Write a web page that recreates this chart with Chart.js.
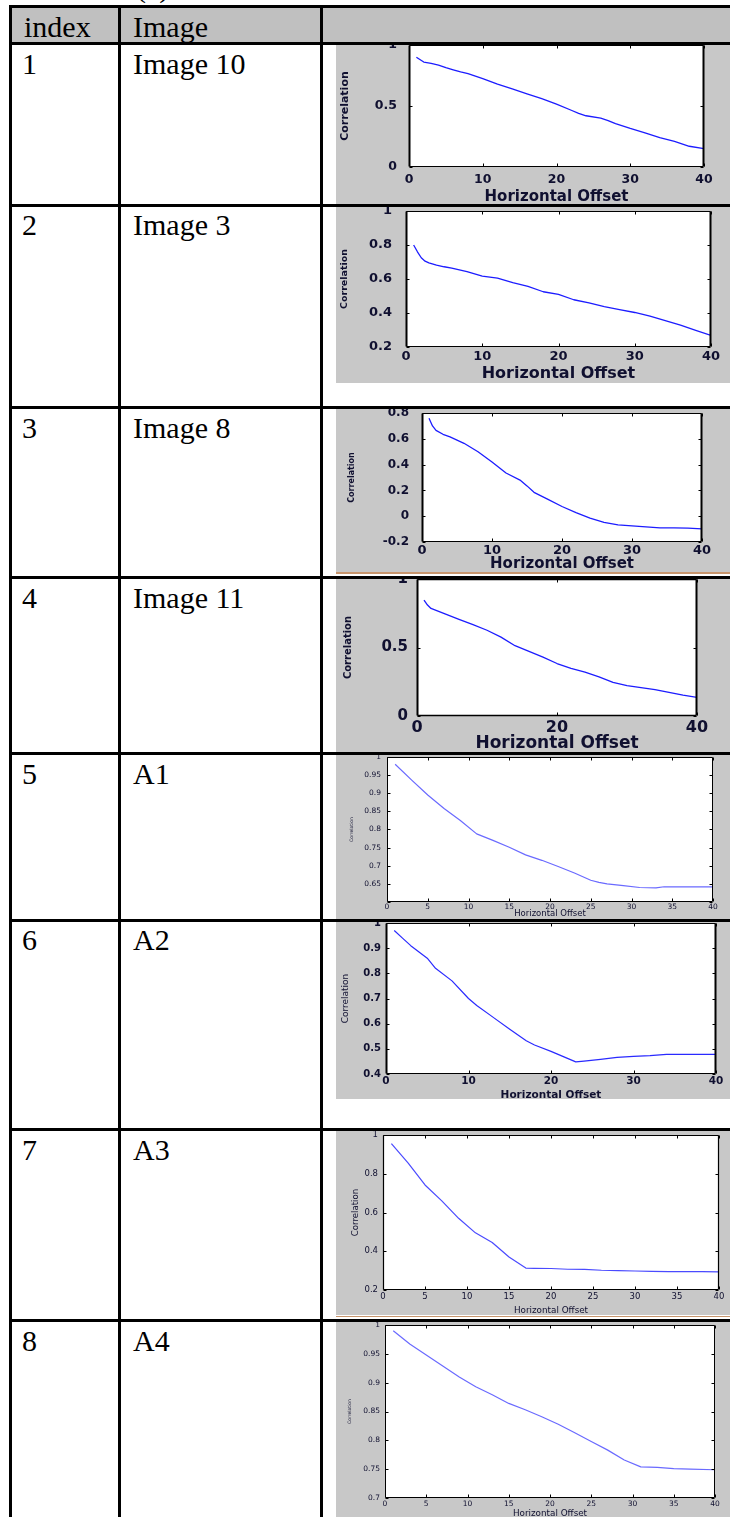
<!DOCTYPE html>
<html><head><meta charset="utf-8">
<script src="https://cdn.jsdelivr.net/npm/chart.js@4.4.1/dist/chart.umd.min.js"></script>
<style>
html,body{margin:0;padding:0;background:#fff;}
#page{position:relative;width:730px;height:1517px;overflow:hidden;background:#fff;}
.hl{position:absolute;height:3px;background:#000;z-index:3;}
.vl{position:absolute;width:3px;background:#000;z-index:3;}
.txt{position:absolute;font-family:"Liberation Serif","Times New Roman",serif;font-size:30px;line-height:1;color:#000;white-space:nowrap;z-index:2;}
.panel{position:absolute;left:336px;width:394px;z-index:1;}
.brown{position:absolute;left:336px;width:394px;height:1.5px;background:#c8966e;z-index:2;}
</style></head><body><div id="page"></div>
<script>
// ---------- table text ----------
const headerLabels = ['index', 'Image', ''];
const indexLabels = ['1', '2', '3', '4', '5', '6', '7', '8'];
const imageNames = ['Image 10', 'Image 3', 'Image 8', 'Image 11', 'A1', 'A2', 'A3', 'A4'];

// ---------- chart data (horizontal offset vs correlation) ----------
const offsets1 = [1,2,3,4,5,6,7,8,9,10,12,14,16,18,20,22,23,24,26,27,28,30,32,34,36,38,40];
const corr1 = [0.90,0.86,0.85,0.835,0.815,0.797,0.78,0.765,0.745,0.725,0.68,0.64,0.60,0.56,0.515,0.465,0.44,0.42,0.40,0.38,0.355,0.316,0.28,0.24,0.21,0.17,0.15];

const offsets2 = [1,1.5,2,2.5,3,4,5,6,8,10,12,14,16,18,20,22,24,26,28,30,32,34,36,38,40];
const corr2 = [0.80,0.76,0.725,0.705,0.695,0.682,0.672,0.664,0.643,0.617,0.605,0.578,0.556,0.525,0.51,0.478,0.46,0.438,0.42,0.403,0.382,0.355,0.328,0.298,0.268];

const offsets3 = [1,1.5,2,3,4,5,6,8,10,12,14,15,16,18,20,22,24,26,28,30,32,34,36,38,40];
const corr3 = [0.76,0.70,0.665,0.635,0.615,0.59,0.565,0.50,0.42,0.335,0.28,0.235,0.185,0.13,0.075,0.028,-0.015,-0.048,-0.067,-0.075,-0.083,-0.09,-0.091,-0.092,-0.099];

const offsets4 = [1,1.5,2,4,6,8,10,12,14,16,18,20,22,24,26,28,30,32,34,36,38,40];
const corr4 = [0.845,0.81,0.785,0.745,0.706,0.667,0.626,0.576,0.513,0.472,0.43,0.383,0.348,0.32,0.286,0.245,0.222,0.207,0.193,0.172,0.152,0.136];

const offsets5 = [1,3,5,7,9,11,13,15,17,19,21,23,25,26,27,29,31,33,34,36,38,40];
const corr5 = [0.98,0.937,0.895,0.858,0.825,0.788,0.77,0.751,0.73,0.715,0.698,0.68,0.66,0.654,0.65,0.645,0.64,0.639,0.642,0.642,0.642,0.642];

const offsets6 = [1,2,3,4,5,6,8,10,11,13,15,17,18,20,22,23,24,26,28,30,32,34,36,38,40];
const corr6 = [0.97,0.94,0.91,0.885,0.86,0.82,0.77,0.70,0.672,0.625,0.578,0.532,0.515,0.49,0.462,0.448,0.451,0.458,0.466,0.47,0.473,0.478,0.478,0.478,0.478];

const offsets7 = [1,3,5,7,9,11,13,15,17,18,20,22,24,26,28,30,32,34,36,38,40];
const corr7 = [0.955,0.855,0.742,0.66,0.57,0.495,0.445,0.37,0.313,0.312,0.311,0.307,0.306,0.302,0.3,0.298,0.296,0.295,0.295,0.295,0.294];

const offsets8 = [1,3,5,7,9,11,13,15,17,19,21,23,25,27,29,31,33,35,37,40];
const corr8 = [0.99,0.967,0.948,0.929,0.91,0.893,0.879,0.864,0.853,0.841,0.828,0.813,0.798,0.783,0.766,0.754,0.753,0.751,0.75,0.749];

// ---------- tick values and labels ----------
const xTicks10 = [0,10,20,30,40];
const xTickLabels10 = ['0','10','20','30','40'];
const xTicks20 = [0,20,40];
const xTickLabels20 = ['0','20','40'];
const xTicks5 = [0,5,10,15,20,25,30,35,40];
const xTickLabels5 = ['0','5','10','15','20','25','30','35','40'];

const yTicks1 = [0,0.5,1];            const yTickLabels1 = ['0','0.5','1'];
const yTicks2 = [0.2,0.4,0.6,0.8,1];  const yTickLabels2 = ['0.2','0.4','0.6','0.8','1'];
const yTicks3 = [-0.2,0,0.2,0.4,0.6,0.8]; const yTickLabels3 = ['-0.2','0','0.2','0.4','0.6','0.8'];
const yTicks4 = [0,0.5,1];            const yTickLabels4 = ['0','0.5','1'];
const yTicks5 = [0.6,0.65,0.7,0.75,0.8,0.85,0.9,0.95,1]; const yTickLabels5 = ['','0.65','0.7','0.75','0.8','0.85','0.9','0.95','1'];
const yTicks6 = [0.4,0.5,0.6,0.7,0.8,0.9,1]; const yTickLabels6 = ['0.4','0.5','0.6','0.7','0.8','0.9','1'];
const yTicks7 = [0.2,0.4,0.6,0.8,1];  const yTickLabels7 = ['0.2','0.4','0.6','0.8','1'];
const yTicks8 = [0.7,0.75,0.8,0.85,0.9,0.95,1]; const yTickLabels8 = ['0.7','0.75','0.8','0.85','0.9','0.95','1'];

const xAxisTitle = 'Horizontal Offset';
const yAxisTitle = 'Correlation';

// ---------- layout / style ----------
const page = document.getElementById('page');
const FAM = '"DejaVu Sans", Arial, sans-serif';
const TXT = '#101030';
const PANEL_LEFT = 336, PANEL_RIGHT = 730;

const rowLines = [6, 43.3, 205, 407.7, 577.5, 753.3, 920, 1129.3, 1320.7];
const colLines = [10, 119, 321.7];

function addDiv(cls, style, text) {
  const d = document.createElement('div');
  d.className = cls;
  Object.assign(d.style, style);
  if (text !== undefined) d.textContent = text;
  page.appendChild(d);
  return d;
}

// header background
addDiv('', {position:'absolute', left:'10px', top:'6px', width:'720px', height:'37.3px', background:'#c0c0c0', zIndex:0});
// cut caption at top
addDiv('txt', {left:'136px', top:'-27.6px'}, '(a)');

const BASE = 25.1; // baseline offset from box top for 30px Liberation Serif, line-height 1
addDiv('txt', {left:'24px', top:(36.7 - BASE) + 'px'}, headerLabels[0]);
addDiv('txt', {left:'133px', top:(36.7 - BASE) + 'px'}, headerLabels[1]);
for (let i = 0; i < 8; i++) {
  const base = rowLines[i + 1] + 30.5;
  addDiv('txt', {left:'22px', top:(base - BASE) + 'px'}, indexLabels[i]);
  addDiv('txt', {left:'133px', top:(base - BASE) + 'px'}, imageNames[i]);
}

rowLines.forEach(y => addDiv('hl', {left:'8.5px', width:'721.5px', top:(y - 1.5) + 'px'}));
colLines.forEach(x => addDiv('vl', {left:(x - 1.5) + 'px', top:'4.5px', height:'1513px'}));
addDiv('brown', {top:'572px'});
addDiv('brown', {top:'1315.5px'});

// ---------- plugin: MATLAB-like box, inward ticks, backgrounds ----------
const matlabAxes = {
  id: 'matlabAxes',
  beforeDraw(chart, args, o) {
    const {ctx, chartArea: a, width, height} = chart;
    ctx.save();
    ctx.fillStyle = '#c8c8c8';
    ctx.fillRect(0, 0, width, height);
    ctx.fillStyle = '#ffffff';
    ctx.fillRect(a.left, a.top, a.right - a.left, a.bottom - a.top);
    ctx.restore();
  },
  afterDatasetsDraw(chart, args, o) {
    const {ctx, chartArea: a, scales} = chart;
    const xs = scales.x, ys = scales.y;
    const L = Math.round(a.left) + 0.5, R = Math.round(a.right) - 0.5;
    const T = Math.round(a.top) + 0.5, B = Math.round(a.bottom) - 0.5;
    ctx.save();
    ctx.strokeStyle = '#000';
    ctx.lineWidth = 1;
    ctx.beginPath();
    xs.ticks.forEach(t => {
      const p = Math.round(xs.getPixelForValue(t.value)) + 0.5;
      ctx.moveTo(p, B); ctx.lineTo(p, B - o.tick);
      ctx.moveTo(p, T); ctx.lineTo(p, T + o.tick);
    });
    ys.ticks.forEach(t => {
      const p = Math.round(ys.getPixelForValue(t.value)) + 0.5;
      ctx.moveTo(L, p); ctx.lineTo(L + o.tick, p);
      ctx.moveTo(R, p); ctx.lineTo(R - o.tick, p);
    });
    ctx.stroke();
    ctx.lineWidth = o.frameH;
    ctx.beginPath();
    ctx.moveTo(L, T); ctx.lineTo(R, T);
    ctx.moveTo(L, B); ctx.lineTo(R, B);
    ctx.stroke();
    ctx.lineWidth = o.frameV;
    ctx.beginPath();
    ctx.moveTo(L, T); ctx.lineTo(L, B);
    ctx.moveTo(R, T); ctx.lineTo(R, B);
    ctx.stroke();
    ctx.restore();
  }
};

function f(size, bold) { return {family: FAM, size: size, weight: bold ? 'bold' : 'normal', lineHeight: 1}; }

const charts = [
  {xs: offsets1, ys: corr1, xt: xTicks10, xl: xTickLabels10, yt: yTicks1, yl: yTickLabels1, min: 0, max: 1,
   top: 44, bottom: 205, L: 409, R: 704, T: 45, B: 167, yTitleX: 345, xTitleY: 196.7, xTickY: 180, yPad: 12,
   xtf: f(12.5, true), ytf: f(12.5, true), xtt: f(15, true), ytt: f(11, true), color: '#1c1cff', lw: 1.3, frameV: 2, frameH: 1.2, tick: 3},
  {xs: offsets2, ys: corr2, xt: xTicks10, xl: xTickLabels10, yt: yTicks2, yl: yTickLabels2, min: 0.2, max: 1,
   top: 206, bottom: 383, L: 406, R: 711, T: 211, B: 347, yTitleX: 345, xTitleY: 374, xTickY: 356.7, yPad: 14,
   xtf: f(13, true), ytf: f(13, true), xtt: f(16, true), ytt: f(9.5, true), color: '#1c1cff', lw: 1.3, frameV: 2, frameH: 1.2, tick: 3},
  {xs: offsets3, ys: corr3, xt: xTicks10, xl: xTickLabels10, yt: yTicks3, yl: yTickLabels3, min: -0.2, max: 0.8,
   top: 409, bottom: 572, L: 422, R: 702, T: 413, B: 542, yTitleX: 351.7, xTitleY: 564, xTickY: 550.5, yPad: 13,
   xtf: f(13, true), ytf: f(12, true), xtt: f(15, true), ytt: f(8, true), color: '#1c1cff', lw: 1.3, frameV: 2, frameH: 1.2, tick: 3},
  {xs: offsets4, ys: corr4, xt: xTicks20, xl: xTickLabels20, yt: yTicks4, yl: yTickLabels4, min: 0, max: 1,
   top: 578, bottom: 753, L: 417, R: 697, T: 579, B: 716, yTitleX: 348, xTitleY: 744, xTickY: 728.3, yPad: 9,
   xtf: f(16, true), ytf: f(15, true), xtt: f(17, true), ytt: f(10, true), color: '#1c1cff', lw: 1.3, frameV: 2, frameH: 1.3, tick: 3},
  {xs: offsets5, ys: corr5, xt: xTicks5, xl: xTickLabels5, yt: yTicks5, yl: yTickLabels5, min: 0.6, max: 1,
   top: 754, bottom: 919, L: 387, R: 713, T: 757, B: 902, yTitleX: 351.7, xTitleY: 914, xTickY: 906.7, yPad: 6,
   xtf: f(7.5, false), ytf: f(7.5, false), xtt: f(8.5, false), ytt: f(4.5, false), color: '#6a6aff', lw: 1.2, frameV: 1, frameH: 1, tick: 3},
  {xs: offsets6, ys: corr6, xt: xTicks10, xl: xTickLabels10, yt: yTicks6, yl: yTickLabels6, min: 0.4, max: 1,
   top: 921, bottom: 1099, L: 386, R: 716, T: 923, B: 1074, yTitleX: 345.7, xTitleY: 1095, xTickY: 1081.7, yPad: 5,
   xtf: f(10.5, true), ytf: f(10, true), xtt: f(10.5, true), ytt: f(9, false), color: '#2a2aff', lw: 1.2, frameV: 2, frameH: 1.2, tick: 3},
  {xs: offsets7, ys: corr7, xt: xTicks5, xl: xTickLabels5, yt: yTicks7, yl: yTickLabels7, min: 0.2, max: 1,
   top: 1130, bottom: 1315, L: 383, R: 719, T: 1135, B: 1290, yTitleX: 355.7, xTitleY: 1311, xTickY: 1296.7, yPad: 5,
   xtf: f(8.5, false), ytf: f(8.5, false), xtt: f(8.8, false), ytt: f(8.6, false), color: '#4a4aff', lw: 1.2, frameV: 1.2, frameH: 1, tick: 3},
  {xs: offsets8, ys: corr8, xt: xTicks5, xl: xTickLabels5, yt: yTicks8, yl: yTickLabels8, min: 0.7, max: 1,
   top: 1321, bottom: 1517, L: 385, R: 715, T: 1325, B: 1498, yTitleX: 350, xTitleY: 1513.3, xTickY: 1504, yPad: 5,
   xtf: f(7.5, false), ytf: f(7.5, false), xtt: f(8.8, false), ytt: f(4.5, false), color: '#6a6aff', lw: 1.2, frameV: 1, frameH: 1, tick: 3}
];

charts.forEach(c => {
  const wrap = addDiv('panel', {top: c.top + 'px', height: (c.bottom - c.top) + 'px'});
  const cv = document.createElement('canvas');
  wrap.appendChild(cv);
  new Chart(cv, {
    type: 'scatter',
    data: {
      datasets: [{
        data: c.xs.map((x, i) => ({x: x, y: c.ys[i]})),
        showLine: true, borderColor: c.color, borderWidth: c.lw, pointRadius: 0,
        pointHoverRadius: 0, tension: 0, fill: false, borderJoinStyle: 'round'
      }]
    },
    options: {
      responsive: true, maintainAspectRatio: false, animation: false, devicePixelRatio: 1,
      events: [],
      layout: {autoPadding: false, padding: {left: 0, top: c.T - c.top, right: PANEL_RIGHT - c.R, bottom: 0}},
      plugins: {legend: {display: false}, tooltip: {enabled: false},
        matlabAxes: {tick: c.tick, frameV: c.frameV, frameH: c.frameH}},
      scales: {
        x: {
          type: 'linear', position: 'bottom', min: 0, max: 40,
          afterBuildTicks: s => { s.ticks = c.xt.map(v => ({value: v})); },
          afterFit: s => { s.height = c.bottom - c.B; s.paddingLeft = 0; s.paddingRight = 0; s.paddingTop = 0; s.paddingBottom = 0; },
          grid: {display: false, drawTicks: false}, border: {display: false},
          ticks: {autoSkip: false, maxRotation: 0, minRotation: 0, color: TXT, font: c.xtf,
            padding: c.xTickY - c.B - c.xtf.size / 2, callback: (v, i) => c.xl[i]},
          title: {display: true, text: xAxisTitle, color: TXT, font: c.xtt,
            padding: {top: 0, bottom: c.bottom - c.xTitleY - c.xtt.size / 2}}
        },
        y: {
          type: 'linear', position: 'left', min: c.min, max: c.max,
          afterBuildTicks: s => { s.ticks = c.yt.map(v => ({value: v})); },
          afterFit: s => { s.width = c.L - PANEL_LEFT; s.paddingLeft = 0; s.paddingRight = 0; s.paddingTop = 0; s.paddingBottom = 0; },
          grid: {display: false, drawTicks: false}, border: {display: false},
          ticks: {autoSkip: false, color: TXT, font: c.ytf, padding: c.yPad, callback: (v, i) => c.yl[i]},
          title: {display: true, text: yAxisTitle, color: TXT, font: c.ytt,
            padding: {top: c.yTitleX - PANEL_LEFT - c.ytt.size / 2, bottom: 0}}
        }
      }
    },
    plugins: [matlabAxes]
  });
});
</script>
</body></html>
